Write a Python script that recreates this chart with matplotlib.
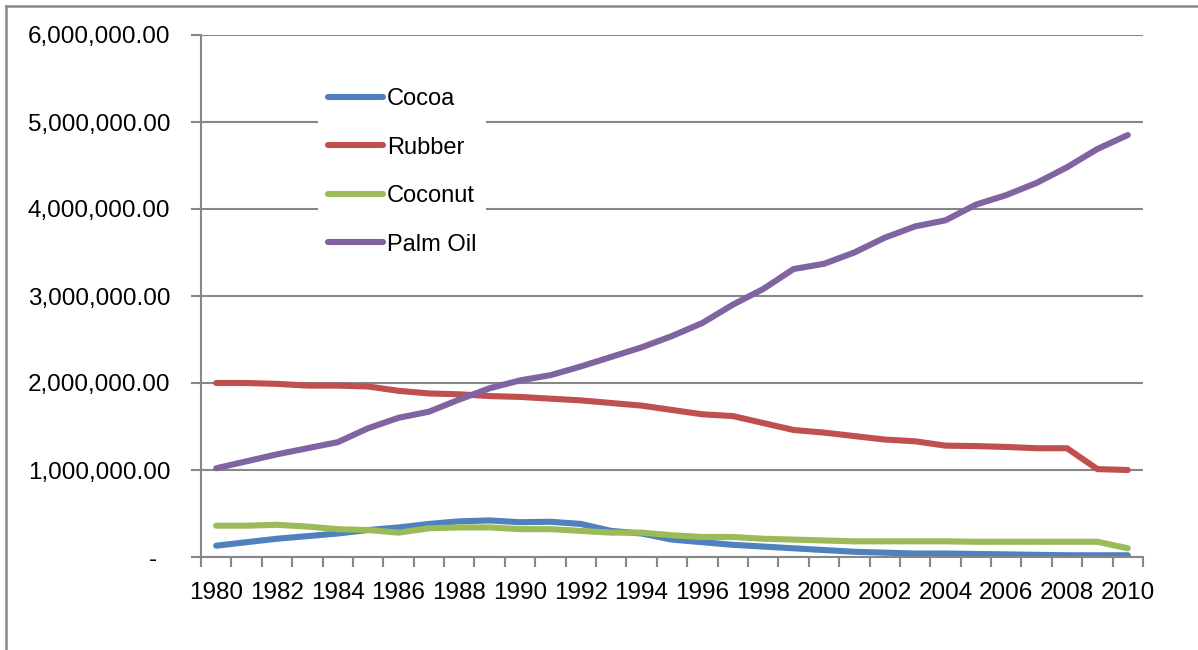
import matplotlib
matplotlib.use("Agg")
import matplotlib.pyplot as plt
from matplotlib.lines import Line2D
from matplotlib.ticker import FixedLocator

plt.rcParams['font.family'] = ['Liberation Sans', 'DejaVu Sans']

# data
years = list(range(1980, 2011))
cocoa = [130000, 170000, 210000, 240000, 270000, 310000, 340000, 380000, 410000, 420000,
         400000, 405000, 380000, 300000, 270000, 200000, 170000, 140000, 120000, 100000,
         80000, 60000, 50000, 40000, 40000, 35000, 30000, 25000, 20000, 20000, 20000]
rubber = [2000000, 2000000, 1990000, 1970000, 1970000, 1960000, 1910000, 1880000, 1870000, 1850000,
          1840000, 1820000, 1800000, 1770000, 1740000, 1690000, 1640000, 1620000, 1540000, 1460000,
          1430000, 1390000, 1350000, 1330000, 1280000, 1275000, 1265000, 1250000, 1250000, 1010000, 1000000]
coconut = [360000, 360000, 370000, 350000, 320000, 310000, 280000, 330000, 340000, 340000,
           320000, 320000, 300000, 280000, 280000, 250000, 230000, 230000, 210000, 200000,
           190000, 180000, 180000, 180000, 180000, 175000, 175000, 175000, 175000, 175000, 100000]
palm_oil = [1020000, 1100000, 1180000, 1250000, 1320000, 1480000, 1600000, 1670000, 1810000, 1940000,
            2030000, 2090000, 2190000, 2300000, 2410000, 2540000, 2690000, 2900000, 3080000, 3310000,
            3370000, 3500000, 3670000, 3800000, 3870000, 4050000, 4160000, 4300000, 4480000, 4690000, 4850000]

series = [("Cocoa", cocoa, "#4F81BD"),
          ("Rubber", rubber, "#C0504D"),
          ("Coconut", coconut, "#9BBB59"),
          ("Palm Oil", palm_oil, "#8064A2")]

yticks = [0, 1000000, 2000000, 3000000, 4000000, 5000000, 6000000]
ytick_labels = ["-  "] + ["{:,.2f}".format(v) for v in yticks[1:]]

grey = "#878787"
fig = plt.figure(figsize=(11.98, 6.5), dpi=100)
ax = fig.add_axes([201/1198, 1 - 557/650, 942/1198, 522/650])

x = list(range(len(years)))
for name, vals, col in series:
    ax.plot(x, vals, color=col, lw=4.4, solid_capstyle='round', solid_joinstyle='round', label=name)

ax.set_xlim(-0.5, len(years) - 0.5)
ax.set_ylim(0, 6000000)

# category axis: tick marks between categories, labels every 2 years
ax.set_xticks(x[::2])
ax.set_xticklabels([str(y) for y in years[::2]])
ax.xaxis.set_minor_locator(FixedLocator([i - 0.5 for i in range(len(years) + 1)]))
ax.tick_params(axis='x', which='major', length=0, pad=18, labelsize=17.5)
ax.tick_params(axis='x', which='minor', length=7, width=1.5, color=grey, direction='out')

ax.set_yticks(yticks)
ax.set_yticklabels(ytick_labels)
ax.tick_params(axis='y', length=7, width=1.5, color=grey, pad=15, labelsize=17.5)

ax.grid(axis='y', color=grey, lw=1.5)
ax.set_axisbelow(True)
for s in ['top', 'right']:
    ax.spines[s].set_visible(False)
for s in ['left', 'bottom']:
    ax.spines[s].set_color(grey)
    ax.spines[s].set_linewidth(1.5)

leg = ax.legend(loc='upper left', bbox_to_anchor=(0.124, 0.917), borderaxespad=0,
                fontsize=17, frameon=True, fancybox=False, edgecolor='none', framealpha=1,
                handlelength=2.33, handletextpad=0.17, labelspacing=1.12,
                borderpad=0.42)
for h in leg.get_lines():
    h.set_linewidth(4.4)

# outer chart border
fig.add_artist(Line2D([6/1198, 6/1198], [0, 1 - 6/650], color=grey, lw=1.8))
fig.add_artist(Line2D([6/1198, 1], [1 - 6/650, 1 - 6/650], color=grey, lw=1.8))

fig.savefig("out.png", dpi=100, facecolor='white')
